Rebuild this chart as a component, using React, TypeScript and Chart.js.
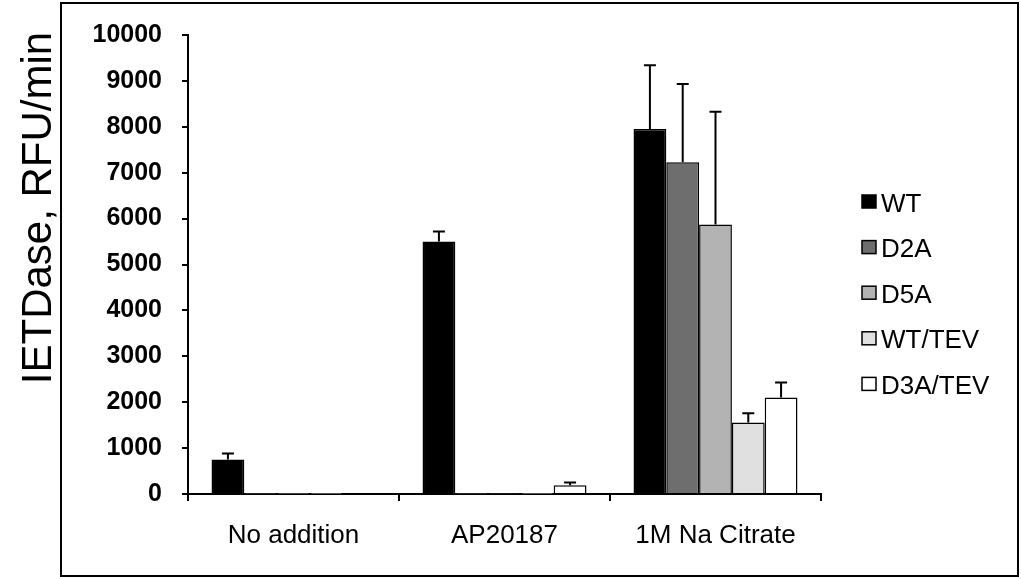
import React, { useEffect, useRef } from "react";
import { Chart, registerables } from "chart.js";

Chart.register(...registerables);

const categories = ["No addition", "AP20187", "1M Na Citrate"];
const seriesNames = ["WT", "D2A", "D5A", "WT/TEV", "D3A/TEV"];
const wtValues = [750, 5500, 7950];
const d2aValues = [4, 4, 7230];
const d5aValues = [4, 10, 5870];
const wtTevValues = [4, 4, 1560];
const d3aTevValues = [20, 190, 2100];
const wtErrors = [130, 220, 1390];
const d2aErrors = [0, 0, 1700];
const d5aErrors = [0, 0, 2460];
const wtTevErrors = [0, 0, 200];
const d3aTevErrors = [0, 60, 330];
const seriesColors = ["#000000", "#6e6e6e", "#b3b3b3", "#e0e0e0", "#ffffff"];
const yTicks = [0, 1000, 2000, 3000, 4000, 5000, 6000, 7000, 8000, 9000, 10000];
const yTitle = "IETDase, RFU/min";

const FONT = "'Liberation Sans', Arial, Helvetica, sans-serif";

export default function App() {
  const ref = useRef<HTMLCanvasElement | null>(null);

  useEffect(() => {
    const values = [wtValues, d2aValues, d5aValues, wtTevValues, d3aTevValues];
    const errors = [wtErrors, d2aErrors, d5aErrors, wtTevErrors, d3aTevErrors];

    const errorBars = {
      id: "errorBars",
      afterDatasetsDraw(chart: any) {
        const ctx = chart.ctx;
        const y = chart.scales.y;
        ctx.save();
        ctx.strokeStyle = "#000";
        ctx.lineWidth = 2;
        chart.data.datasets.forEach((ds: any, i: number) => {
          const meta = chart.getDatasetMeta(i);
          meta.data.forEach((bar: any, j: number) => {
            const e = errors[i][j];
            if (!e) return;
            const top = y.getPixelForValue(values[i][j] + e);
            ctx.beginPath();
            ctx.moveTo(bar.x, bar.y);
            ctx.lineTo(bar.x, top);
            ctx.moveTo(bar.x - 6, top);
            ctx.lineTo(bar.x + 6, top);
            ctx.stroke();
          });
        });
        ctx.restore();
      },
    };

    const decor = {
      id: "decor",
      afterDraw(chart: any) {
        const ctx = chart.ctx;
        ctx.save();
        // frame
        ctx.strokeStyle = "#000";
        ctx.lineWidth = 2;
        ctx.strokeRect(61, 3, 957, 573);
        // y title
        ctx.fillStyle = "#000";
        ctx.font = `42px ${FONT}`;
        ctx.textAlign = "center";
        ctx.textBaseline = "alphabetic";
        ctx.translate(51, 208);
        ctx.rotate(-Math.PI / 2);
        ctx.fillText(yTitle, 0, 0);
        ctx.restore();
        // legend
        ctx.save();
        ctx.font = `26px ${FONT}`;
        ctx.textAlign = "left";
        ctx.textBaseline = "alphabetic";
        seriesNames.forEach((name, i) => {
          const cy = 202 + i * 45.6;
          ctx.fillStyle = seriesColors[i];
          ctx.fillRect(862, cy - 7, 14, 13);
          ctx.strokeStyle = "#000";
          ctx.lineWidth = 1.5;
          ctx.strokeRect(862, cy - 7, 14, 13);
          ctx.fillStyle = "#000";
          ctx.fillText(name, 881, cy + 9.5);
        });
        ctx.restore();
      },
    };

    const chart = new Chart(ref.current as HTMLCanvasElement, {
      type: "bar",
      data: {
        labels: categories,
        datasets: seriesNames.map((name, i) => ({
          label: name,
          data: values[i],
          backgroundColor: seriesColors[i],
          borderColor: "#000",
          borderWidth: 1.5,
          categoryPercentage: 0.777,
          barPercentage: 1,
        })),
      },
      options: {
        animation: false,
        responsive: false,
        devicePixelRatio: 1,
        layout: { padding: { left: 0, top: 33, right: 200, bottom: 0 } },
        plugins: {
          legend: { display: false },
          tooltip: { enabled: false },
        },
        scales: {
          x: {
            grid: {
              offset: true,
              drawOnChartArea: false,
              color: "#000",
              lineWidth: 2,
              tickLength: 7,
            },
            border: { display: true, color: "#000", width: 2 },
            ticks: {
              color: "#000",
              font: { family: FONT, size: 26 },
              padding: 19,
              maxRotation: 0,
            },
            afterFit: (s: any) => {
              s.height = 579 - 494;
            },
          },
          y: {
            min: 0,
            max: 10000,
            afterBuildTicks: (s: any) => {
              s.ticks = yTicks.map((v) => ({ value: v }));
            },
            grid: {
              drawOnChartArea: false,
              color: "#000",
              lineWidth: 2,
              tickLength: 6,
            },
            border: { display: true, color: "#000", width: 2 },
            ticks: {
              color: "#000",
              font: { family: FONT, size: 25, weight: "bold" },
              padding: 20,
              callback: (v: any) => String(v),
            },
            afterFit: (s: any) => {
              s.width = 188;
            },
          },
        },
      },
      plugins: [errorBars, decor],
    });
    return () => chart.destroy();
  }, []);

  return (
    <div style={{ position: "fixed", left: 0, top: 0, width: 1021, height: 579, background: "#fff" }}>
      <canvas ref={ref} width={1021} height={579} />
    </div>
  );
}
